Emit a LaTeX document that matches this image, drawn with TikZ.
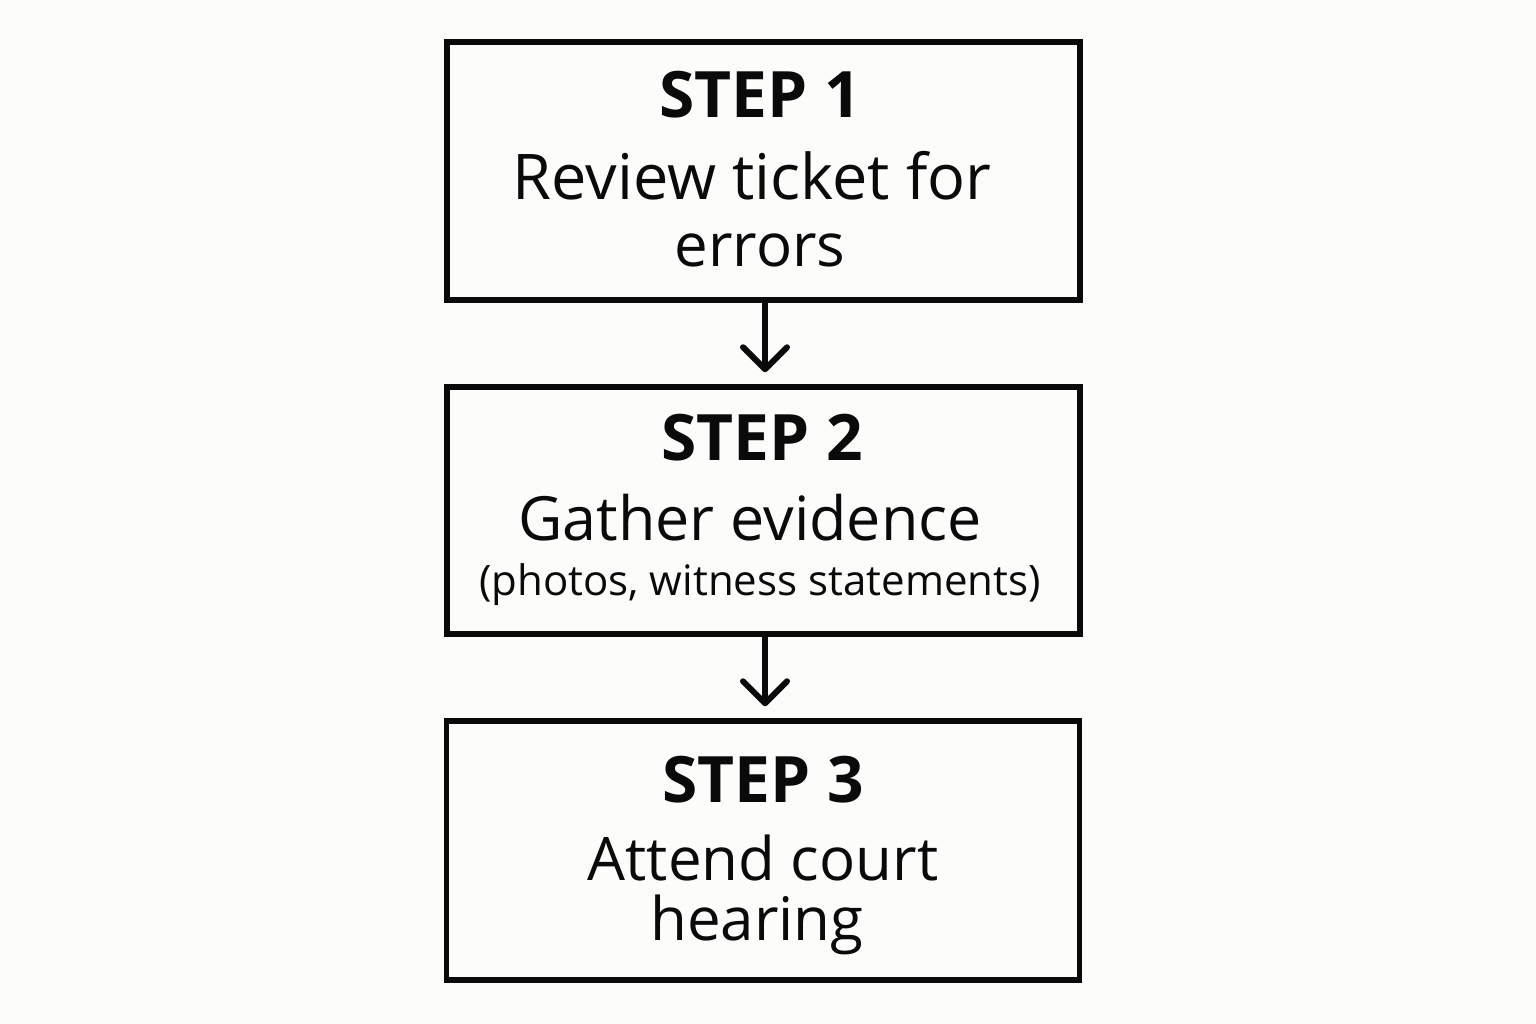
\documentclass[tikz,border=0pt]{standalone}
\usepackage{fontspec}
\setmainfont{Open Sans}
\usetikzlibrary{arrows.meta}
\definecolor{bgc}{HTML}{FCFCFA}
\definecolor{ink}{HTML}{0A0A0A}
\tikzset{
  stepbox/.style={draw=ink, line width=5.5pt, minimum width=633pt, inner sep=0pt},
  head/.style={anchor=base, font=\fontsize{64}{70}\selectfont\bfseries, text=ink},
  body/.style={anchor=base, font=\fontsize{60}{66}\selectfont, text=ink},
  small/.style={anchor=base, font=\fontsize{42}{48}\selectfont, text=ink},
  conn/.style={draw=ink, line width=6pt, line cap=round, -{Straight Barb[length=22pt,width=44pt,line width=6pt,round]}, shorten >=12pt}
}
\begin{document}
\begin{tikzpicture}[x=1pt,y=-1pt]
\fill[bgc] (0,0) rectangle (1536,1024);
\useasboundingbox (0,0) rectangle (1536,1024);
\node[stepbox, minimum height=258pt] (b1) at (763.5,171) {};
\node[stepbox, minimum height=247pt] (b2) at (763.5,510.5) {};
\node[stepbox, minimum height=259pt] (b3) at (763,850.5) {};
\node[head] (t1) at (760,118) {STEP 1};
\node[body, font=\fontsize{63}{69}\selectfont] (l1a) at (752,200) {Review ticket for};
\node[body] (l1b) at (760,266) {errors};
\node[head] (t2) at (762,460) {STEP 2};
\node[body, font=\fontsize{61}{67}\selectfont] (l2a) at (750,540) {Gather evidence};
\node[small] (l2b) at (760,595) {(photos, witness statements)};
\node[head] (t3) at (763,802) {STEP 3};
\node[body] (l3a) at (763,880) {Attend court};
\node[body] (l3b) at (757,940) {hearing};
\draw[conn] (b1.south -| 765,0) -- (b2.north -| 765,0);
\draw[conn] (b2.south -| 765,0) -- (b3.north -| 765,0);
\end{tikzpicture}
\end{document}
